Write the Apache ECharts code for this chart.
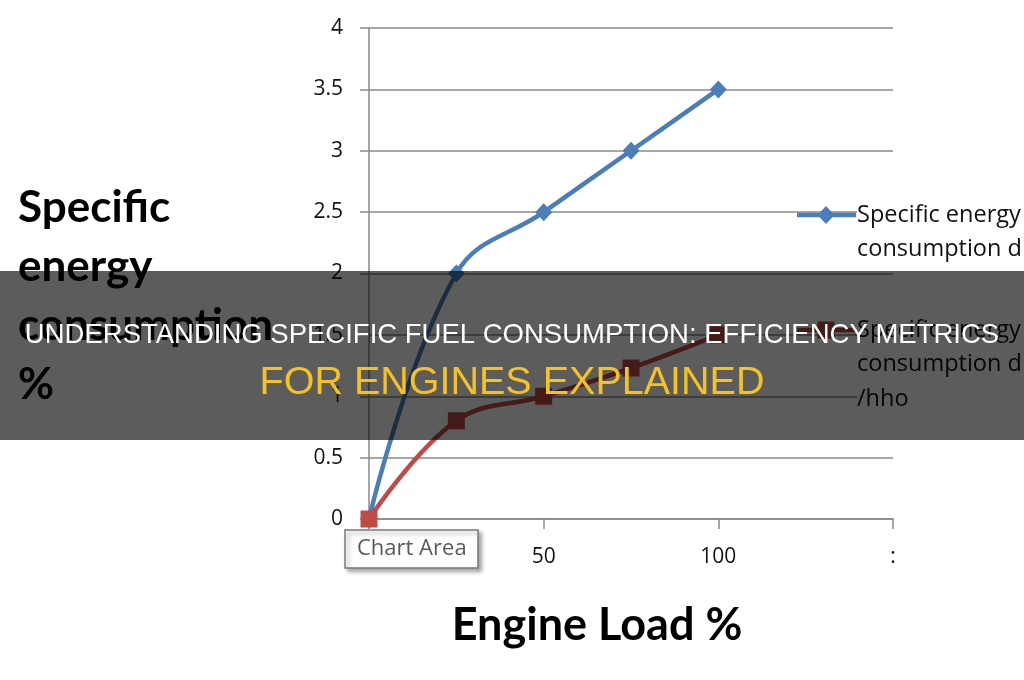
<!DOCTYPE html>
<html>
<head>
<meta charset="utf-8">
<script src="https://cdn.jsdelivr.net/npm/echarts@6/dist/echarts.min.js"></script>
<style>
html,body{margin:0;padding:0;background:#fff;}
#chart{width:1024px;height:680px;}
</style>
</head>
<body>
<div id="chart"></div>
<script>
// ---- data ----
var engineLoad = [0, 25, 50, 75, 100];
var sfcDiesel = [0, 2.0, 2.5, 3.0, 3.5];
var sfcDieselHho = [0, 0.8, 1.0, 1.23, 1.5];
var seriesNames = ['Specific energy consumption diesel', 'Specific energy consumption diesel/hho'];
var legendLines = [['Specific energy', 'consumption diesel'], ['Specific energy', 'consumption diesel', '/hho']];
var xTickLabels = {0: '0', 50: '50', 100: '100', 150: ':'};
var yAxisTitle = 'Specific\nenergy\nconsumption\n%';
var xAxisTitle = 'Engine Load %';
var bannerLine1 = 'UNDERSTANDING SPECIFIC FUEL CONSUMPTION: EFFICIENCY METRICS';
var bannerLine2 = 'FOR ENGINES EXPLAINED';
var tooltipText = 'Chart Area';

var blue = '#4a7ebb';
var red = '#be4b48';

function pairs(xs, ys) { return xs.map(function (x, i) { return [x, ys[i]]; }); }

var chart = echarts.init(document.getElementById('chart'), null, {renderer: 'canvas'});

var legendGraphics = [];
var legendY = [215, 330];
var legendColors = [blue, red];
legendLines.forEach(function (lines, k) {
  var y0 = legendY[k];
  legendGraphics.push({
    type: 'text', left: 857, top: y0 - 17, z: 10,
    style: {
      text: lines.join('\n'), fill: '#111', font: '23.5px "Open Sans"',
      lineHeight: 34.5, backgroundColor: '#fff'
    }
  });
  legendGraphics.push({
    type: 'line', z: 11,
    shape: {x1: 797, y1: y0, x2: 856, y2: y0},
    style: {stroke: legendColors[k], lineWidth: 4.5}
  });
});
legendGraphics.push({
  type: 'polygon', z: 12,
  shape: {points: [[826, 206], [834.5, 215], [826, 224], [817.5, 215]]},
  style: {fill: blue}
});
legendGraphics.push({
  type: 'rect', z: 12,
  shape: {x: 817.5, y: 321.5, width: 17, height: 17},
  style: {fill: red}
});

var option = {
  backgroundColor: '#fff',
  animation: false,
  grid: {left: 369, right: 131, top: 28, bottom: 161},
  xAxis: {
    type: 'value', min: 0, max: 150, interval: 50,
    axisLine: {show: true, lineStyle: {color: '#8a8a8a', width: 1.5}},
    axisTick: {show: true, length: 10, lineStyle: {color: '#8a8a8a', width: 1.5}},
    splitLine: {show: false},
    axisLabel: {
      margin: 28, color: '#111', fontSize: 21, fontFamily: 'Open Sans',
      formatter: function (v) { return xTickLabels[v] !== undefined ? xTickLabels[v] : ''; }
    },
    name: xAxisTitle, nameLocation: 'middle', nameGap: 84,
    nameTextStyle: {fontSize: 45, fontWeight: 'bold', fontFamily: 'Lato', color: '#000', padding: [0, 68, 0, 0]}
  },
  yAxis: {
    type: 'value', min: 0, max: 4, interval: 0.5,
    axisLine: {show: true, lineStyle: {color: '#8a8a8a', width: 1.5}},
    axisTick: {show: true, length: 9, lineStyle: {color: '#8a8a8a', width: 1.5}},
    splitLine: {show: true, lineStyle: {color: '#8a8a8a', width: 1.5}},
    axisLabel: {margin: 26, color: '#111', fontSize: 21, fontFamily: 'Open Sans'}
  },
  series: [
    {
      name: seriesNames[0], type: 'line', data: pairs(engineLoad, sfcDiesel),
      smooth: 0.4, symbol: 'diamond', symbolSize: [17, 18],
      lineStyle: {color: blue, width: 4.5}, itemStyle: {color: blue}, z: 3
    },
    {
      name: seriesNames[1], type: 'line', data: pairs(engineLoad, sfcDieselHho),
      smooth: 0.4, symbol: 'rect', symbolSize: 17,
      lineStyle: {color: red, width: 4.5}, itemStyle: {color: red}, z: 4
    }
  ],
  graphic: legendGraphics.concat([
    {type: 'text', z: 5, left: 18, top: 178,
     style: {text: yAxisTitle, fill: '#000', font: 'bold 44px Lato', lineHeight: 59}},
    {type: 'rect', z: 50, shape: {x: 345, y: 530, width: 133, height: 38},
     style: {fill: '#fff', stroke: '#7a7a7a', lineWidth: 1.5,
             shadowBlur: 4, shadowOffsetX: 3, shadowOffsetY: 3, shadowColor: 'rgba(0,0,0,0.35)'}},
    {type: 'text', z: 51, x: 357, y: 549,
     style: {text: tooltipText, fill: '#5a5a5a', font: '22px "Open Sans"', verticalAlign: 'middle'}},
    {
      type: 'rect', z: 100, shape: {x: 0, y: 271, width: 1024, height: 169},
      style: {fill: 'rgba(0,0,0,0.64)'}
    },
    {
      type: 'text', z: 101, x: 512, y: 335,
      style: {text: bannerLine1, fill: '#fff', font: '27.5px "Liberation Sans"', align: 'center', verticalAlign: 'middle'}
    },
    {
      type: 'text', z: 101, x: 512, y: 383,
      style: {text: bannerLine2, fill: '#f5c226', font: '39.5px "Liberation Sans"', align: 'center', verticalAlign: 'middle'}
    }
  ])
};
chart.setOption(option);
</script>
</body>
</html>
